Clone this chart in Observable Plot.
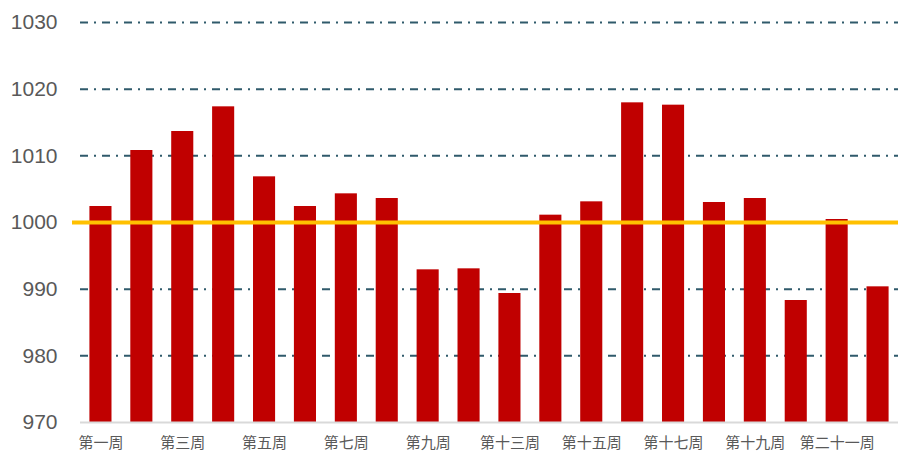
<!DOCTYPE html>
<html><head><meta charset="utf-8">
<script src="https://cdn.jsdelivr.net/npm/d3@7"></script>
<script src="https://cdn.jsdelivr.net/npm/@observablehq/plot@0.6"></script>
<style>body{margin:0;background:#fff}</style>
</head><body><div id="chart"></div>
<script>
const weeks = ["第一周","第二周","第三周","第四周","第五周","第六周","第七周","第八周","第九周","第十二周",
  "第十三周","第十四周","第十五周","第十六周","第十七周","第十八周","第十九周","第二十周","第二十一周","第二十二周"];
const values = [1002.4,1010.8,1013.65,1017.35,1006.85,1002.4,1004.3,1003.6,992.9,993.05,
  989.35,1001.1,1003.1,1017.95,1017.6,1003.0,1003.6,988.3,1000.45,990.35];
const labeledWeeks = weeks.filter((d, i) => i % 2 === 0);
const yTicks = [970, 980, 990, 1000, 1010, 1020, 1030];
const gridValues = [980, 990, 1010, 1020, 1030];
const referenceValue = 1000;
const baseValue = 970;

const data = weeks.map((w, i) => ({week: w, value: values[i]}));

const chart = Plot.plot({
  width: 900, height: 451,
  marginTop: 22, marginBottom: 29, marginLeft: 80, marginRight: 2,
  style: {background: "#fff"},
  x: {domain: weeks, paddingInner: 0.46, paddingOuter: 0.23, round: false, axis: null, label: null},
  y: {domain: [970, 1030], axis: null, label: null},
  marks: [
    Plot.gridY(gridValues, {stroke: "#2F5A6B", strokeOpacity: 1, strokeWidth: 2, strokeDasharray: "8,6,2,6"}),
    Plot.barY(data, {x: "week", y1: baseValue, y2: "value", fill: "#C00000"}),
    Plot.ruleY([baseValue], {stroke: "#D9D9D9", strokeWidth: 2}),
    Plot.ruleY([referenceValue], {stroke: "#FFC000", strokeWidth: 4, insetLeft: -8}),
    Plot.axisY(yTicks, {tickSize: 0, tickPadding: 23, fontSize: 21, fontFamily: "Liberation Sans, Arial, sans-serif", fill: "#595959", tickFormat: d => String(d), label: null}),
    Plot.axisX(labeledWeeks, {tickSize: 0, tickPadding: 15, fontSize: 15, fontFamily: "Noto Sans CJK SC, sans-serif", fill: "#595959", label: null})
  ]
});
document.getElementById("chart").append(chart);
</script>
</body></html>
